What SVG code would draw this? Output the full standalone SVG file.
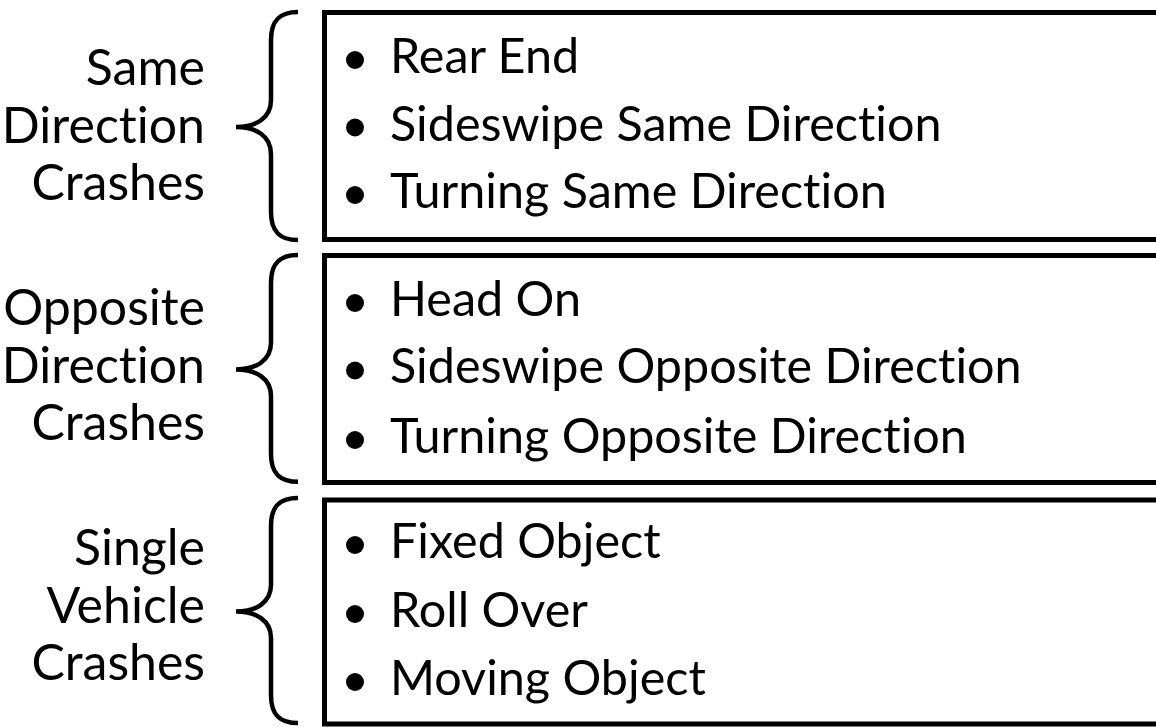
<svg xmlns="http://www.w3.org/2000/svg" width="1156" height="727" viewBox="0 0 1156 727">
  <style>
    .box { fill: none; stroke: #000; stroke-width: 5; }
    .brace { fill: none; stroke: #000; stroke-width: 4.5; stroke-linecap: butt; }
    text { font-variant-ligatures: none; font-feature-settings: "liga" 0, "clig" 0; }
    .label { font-family: Lato, "Liberation Sans", sans-serif; font-size: 50px; fill: #000; text-anchor: end; }
    .item { font-family: Lato, "Liberation Sans", sans-serif; font-size: 48.5px; fill: #000; }
    .dot { fill: #000; }
  </style>
  <defs>
    <!-- left curly brace, drawn for a span from y=0 to y=228 -->
    <path id="brace-shape" class="brace" d="M 298,0 C 280,0 271,8 271,28 L 271,88 C 271,106 256,115 236,115 C 256,115 271,124 271,142 L 271,200 C 271,220 280,228 298,228"/>
  </defs>

  <g id="connectors">
    <use href="#brace-shape" transform="translate(0,12)"/>
    <use href="#brace-shape" transform="translate(0,255) scale(1,0.995)"/>
    <use href="#brace-shape" transform="translate(0,498) scale(1,0.987)"/>
  </g>

  <g id="group-same">
    <text class="label" x="205" y="85">Same</text>
    <text class="label" x="205" y="143">Direction</text>
    <text class="label" x="205" y="200">Crashes</text>
  </g>
  <g id="box-same">
    <rect class="box" x="324.5" y="12.5" width="900" height="227"/>
    <circle class="dot" cx="355" cy="60" r="9"/>
    <circle class="dot" cx="355" cy="127.5" r="9"/>
    <circle class="dot" cx="355" cy="195" r="9"/>
    <text class="item" x="390" y="73">Rear End</text>
    <text class="item" x="390" y="141">Sideswipe Same Direction</text>
    <text class="item" x="390" y="208">Turning Same Direction</text>
  </g>

  <g id="group-opposite">
    <text class="label" x="205" y="325">Opposite</text>
    <text class="label" x="205" y="383">Direction</text>
    <text class="label" x="205" y="440">Crashes</text>
  </g>
  <g id="box-opposite">
    <rect class="box" x="324.5" y="255.5" width="900" height="227"/>
    <circle class="dot" cx="355" cy="303" r="9"/>
    <circle class="dot" cx="355" cy="370.5" r="9"/>
    <circle class="dot" cx="355" cy="440" r="9"/>
    <text class="item" x="390" y="316">Head On</text>
    <text class="item" x="390" y="383">Sideswipe Opposite Direction</text>
    <text class="item" x="390" y="453">Turning Opposite Direction</text>
  </g>

  <g id="group-single">
    <text class="label" x="205" y="565">Single</text>
    <text class="label" x="205" y="623">Vehicle</text>
    <text class="label" x="205" y="680">Crashes</text>
  </g>
  <g id="box-single">
    <rect class="box" x="324.5" y="500" width="900" height="224"/>
    <circle class="dot" cx="355" cy="545" r="9"/>
    <circle class="dot" cx="355" cy="614" r="9"/>
    <circle class="dot" cx="355" cy="682" r="9"/>
    <text class="item" x="390" y="558">Fixed Object</text>
    <text class="item" x="390" y="627">Roll Over</text>
    <text class="item" x="390" y="695">Moving Object</text>
  </g>
</svg>
